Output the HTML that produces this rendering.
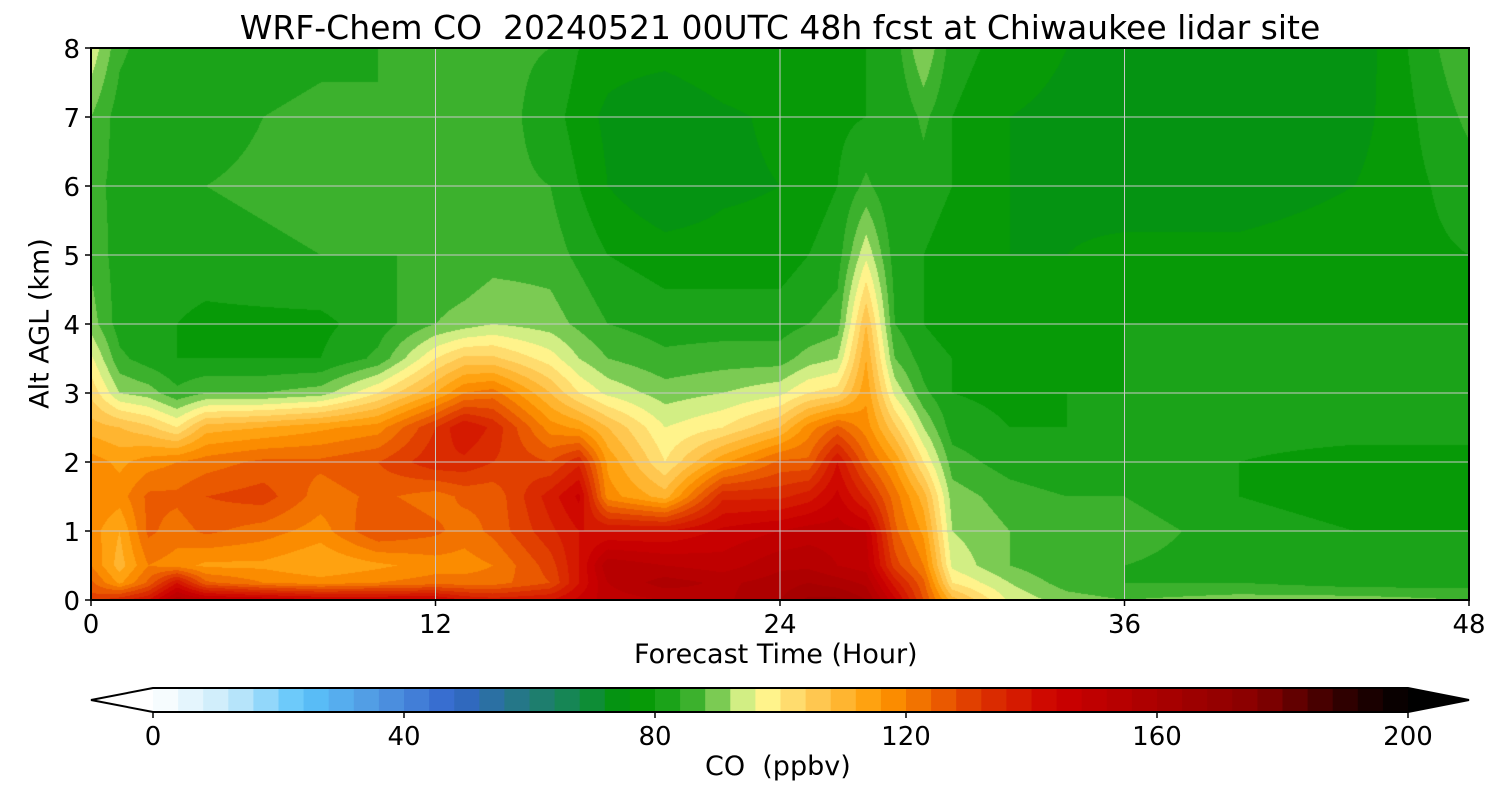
<!DOCTYPE html>
<html><head><meta charset="utf-8"><style>
body{margin:0;background:#fff;font-family:"DejaVu Sans","Liberation Sans",sans-serif;}
#wrap{position:relative;width:1500px;height:800px;overflow:hidden;}
.t{position:absolute;color:#000;white-space:nowrap;}
</style></head><body>
<div id="wrap">
<div class="t" style="left:0;width:1560px;top:8px;font-size:33px;text-align:center;">WRF-Chem CO&nbsp; 20240521 00UTC 48h fcst at Chiwaukee lidar site</div>
<canvas id="plot" width="1378" height="552" style="position:absolute;left:91px;top:48px;"></canvas>
<svg id="svg" width="1500" height="800" style="position:absolute;left:0;top:0;"></svg>
<div class="t" style="left:634px;top:639px;font-size:27px;">Forecast Time (Hour)</div>
<div class="t" style="left:-70px;top:308px;font-size:27px;transform:rotate(-90deg);width:220px;text-align:center;">Alt AGL (km)</div>
<div class="t" style="left:705px;top:751px;font-size:27px;">CO&nbsp; (ppbv)</div>
</div>
<script>
const times=[0,1,2,3,4,6,8,10,12,13,14,16,17,18,20,22,24,25,26,27,28,29,30,32,34,36,40,44,48];
const alts=[0,0.25,0.5,1,1.5,2,2.5,3,3.5,4,5,6,7,8];
const co=[
[130,125,120,118,120,118,110,103,97,90,87,85,88,95],
[135,115,110,112,118,115,108,92,85,82,82,83,82,85],
[140,125,120,125,125,118,105,90,82,80,82,83,80,82],
[155,140,118,122,125,120,100,85,80,80,82,82,82,82],
[150,125,115,125,128,122,110,88,80,79,82,84,82,82],
[148,120,115,122,130,125,112,88,80,79,83,85,84,82],
[145,118,112,118,122,125,115,90,80,79,84,86,85,83],
[145,120,115,128,125,128,118,100,85,82,84,86,84,84],
[145,122,118,125,122,135,132,112,100,88,84,85,85,85],
[140,122,118,122,125,135,140,120,105,90,84,84,85,86],
[138,122,120,125,125,132,135,122,105,92,86,85,86,85],
[140,128,130,135,138,128,118,108,98,90,86,84,82,84],
[145,140,140,140,145,135,115,100,92,87,83,80,78,80],
[150,152,155,140,118,115,108,95,88,84,80,76,75,78],
[152,158,152,140,110,100,96,90,85,82,78,72,72,78],
[155,155,150,145,135,115,100,92,86,82,78,75,75,80],
[160,158,155,148,135,125,108,95,86,82,78,76,77,80],
[165,160,155,150,138,125,118,100,90,84,80,78,78,80],
[165,158,152,150,145,140,125,102,92,86,82,80,79,80],
[160,155,150,148,135,125,118,115,112,108,95,85,80,80],
[145,138,130,125,122,115,105,95,88,84,82,80,80,82],
[128,125,120,115,110,100,92,85,82,80,80,82,85,92],
[110,100,95,92,90,86,82,80,80,78,78,80,80,82],
[95,92,88,88,86,82,80,79,78,77,76,76,76,78],
[90,86,84,86,84,80,80,80,79,78,76,75,75,76],
[88,84,84,86,84,80,80,80,80,80,77,74,74,75],
[90,84,82,82,80,80,82,82,82,80,77,74,73,74],
[90,82,80,80,78,78,82,84,82,80,78,76,74,73],
[88,82,80,80,80,80,80,80,80,80,80,82,85,88]];
const xTicks=[0,12,24,36,48];
const yTicks=[0,1,2,3,4,5,6,7,8];
const cbTicks=[0,40,80,120,160,200];
const stops=[[0,[255,255,255]],[12,[200,234,250]],[24,[91,196,250]],[36,[80,150,225]],[48,[51,102,204]],[60,[34,122,122]],[68,[18,138,72]],[76,[0,150,0]],[80,[14,158,14]],[84,[40,168,35]],[88,[80,185,55]],[92,[165,220,110]],[96,[255,255,153]],[104,[255,208,96]],[116,[255,153,0]],[132,[221,51,0]],[144,[204,0,0]],[160,[170,0,0]],[176,[136,0,0]],[192,[34,0,0]],[200,[0,0,0]]];
function cmap(v){v=Math.max(0,Math.min(200,v));for(let i=1;i<stops.length;i++){if(v<=stops[i][0]){const a=stops[i-1],b=stops[i];const f=(v-a[0])/(b[0]-a[0]);return a[1].map((c,k)=>Math.round(c+(b[1][k]-c)*f));}}return [0,0,0];}
const X0=91,X1=1469,Y0=600,Y1=48;
const xs=t=>X0+(t-0)/(48-0)*(X1-X0);
const ys=a=>Y0-(a/8)*(Y0-Y1);
function findIdx(arr,v){let i=0;while(i<arr.length-2&&v>arr[i+1])i++;return i;}
const cv=document.getElementById('plot'),ctx=cv.getContext('2d');
const W=cv.width,H=cv.height,img=ctx.createImageData(W,H);
for(let py=0;py<H;py++){const a=8*(1-(py+0.5)/H);const j=findIdx(alts,a);const fa=(a-alts[j])/(alts[j+1]-alts[j]);
for(let px=0;px<W;px++){const t=48*(px+0.5)/W;const i=findIdx(times,t);const ft=(t-times[i])/(times[i+1]-times[i]);
const v=(co[i][j]*(1-ft)+co[i+1][j]*ft)*(1-fa)+(co[i][j+1]*(1-ft)+co[i+1][j+1]*ft)*fa;
const q=Math.floor(v/4)*4+2;const c=cmap(q);const o=(py*W+px)*4;img.data[o]=c[0];img.data[o+1]=c[1];img.data[o+2]=c[2];img.data[o+3]=255;}}
ctx.putImageData(img,0,0);
const svg=document.getElementById('svg');const NS='http://www.w3.org/2000/svg';
function el(tag,attrs,parent){const e=document.createElementNS(NS,tag);for(const k in attrs)e.setAttribute(k,attrs[k]);(parent||svg).appendChild(e);return e;}
const FF='DejaVu Sans, Liberation Sans, sans-serif';
xTicks.forEach(t=>{const x=xs(t);
if(t>0&&t<48){const g=el('line',{x1:x,x2:x,y1:Y1,y2:Y0,stroke:'#c8c8c8','stroke-width':1});}
const tk=el('line',{x1:x,x2:x,y1:Y0,y2:Y0+6,stroke:'#000','stroke-width':1.5});
const tx=el('text',{x:x,y:Y0+33,'font-size':26,'text-anchor':'middle','font-family':FF});tx.textContent=t;});
yTicks.forEach(a=>{const y=ys(a);
if(a>0&&a<8){const g=el('line',{x1:X0,x2:X1,y1:y,y2:y,stroke:'#c8c8c8','stroke-width':1});}
const tk=el('line',{x1:X0-6,x2:X0,y1:y,y2:y,stroke:'#000','stroke-width':1.5});
const tx=el('text',{x:X0-11,y:y+10,'font-size':26,'text-anchor':'end','font-family':FF});tx.textContent=a;});
const fr=el('rect',{x:X0,y:Y1,width:X1-X0,height:Y0-Y1,fill:'none',stroke:'#000','stroke-width':2});
const C0=153,C1=1408,CY=688,CH=24;const cx=v=>C0+v/200*(C1-C0);
const cg=el('g',{});
for(let v=0;v<200;v+=4){const r=el('rect',{x:cx(v),y:CY,width:cx(v+4)-cx(v)+0.6,height:CH,fill:'rgb('+cmap(v+2).join(',')+')'},cg);}
const tl=el('polygon',{points:`${C0},${CY} 91,${CY+CH/2} ${C0},${CY+CH}`,fill:'#fff',stroke:'none'},cg);
const tr=el('polygon',{points:`${C1},${CY} 1469,${CY+CH/2} ${C1},${CY+CH}`,fill:'#000'},cg);
const co2=el('polygon',{points:`${C0},${CY} 91,${CY+CH/2} ${C0},${CY+CH} ${C1},${CY+CH} 1469,${CY+CH/2} ${C1},${CY}`,fill:'none',stroke:'#000','stroke-width':2},cg);
cbTicks.forEach(v=>{const x=cx(v);const tk=el('line',{x1:x,x2:x,y1:CY+CH,y2:CY+CH+6,stroke:'#000','stroke-width':1.5});
const tx=el('text',{x:x,y:CY+CH+33,'font-size':26,'text-anchor':'middle','font-family':FF});tx.textContent=v;});
</script>
</body></html>
